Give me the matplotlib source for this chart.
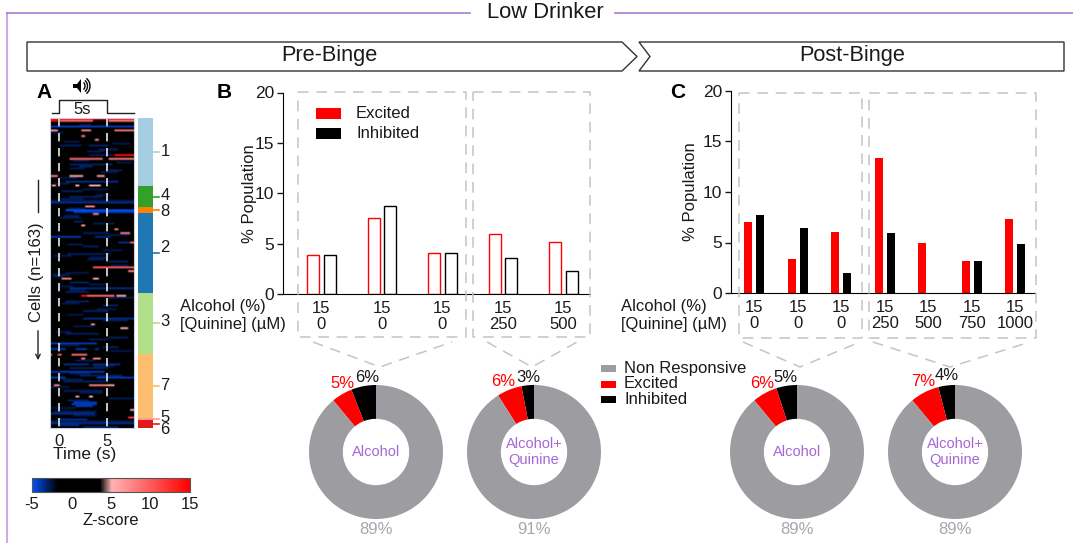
import matplotlib
matplotlib.use('Agg')
import matplotlib.pyplot as plt
from matplotlib.colors import LinearSegmentedColormap
from matplotlib.patches import Arc, Polygon, Rectangle
import numpy as np

W, H = 1073, 543

RED = '#ff0000'
GREY = '#9d9ca0'
DASH = '#c4c4c4'
PURPLE = '#a566d6'
TEXT = '#1a1a1a'

# Heatmap, read off the picture streak by streak
# (row, first second, last second, z-score)
STREAK_ROW = [0, 1, 1, 1, 4, 4, 6, 6, 6, 9, 11, 14, 14, 16, 19, 19, 21, 21, 24, 25, 27, 30,
              30, 30, 33, 35, 35, 35, 38, 41, 44, 46, 48, 49, 50, 51, 54, 56, 58, 60, 60,
              62, 62, 65, 65, 67, 71, 71, 73, 75, 78, 80, 82, 84, 84, 86, 89, 91, 93, 93,
              93, 96, 98, 101, 105, 105, 108, 110, 113, 115, 118, 120, 121, 121, 121, 124,
              124, 124, 126, 126, 129, 129, 131, 133, 135, 136, 136, 138, 140, 140, 140,
              143, 146, 146, 148, 149, 150, 151, 153, 154, 155, 157, 158, 160, 161, 162]
STREAK_START = [-0.94, -0.94, 0.1, 5.15, -0.94, 1.5, -0.94, 2.3, 5.65, 2.35, 3.6, 0.1, 3.0, 4.0,
                5.6, 3.0, 0.97, 5.15, 0.97, 2.0, 5.0, -0.94, 0.97, 3.9, 0.6, -0.7, 1.67, 3.05,
                0.3, 1.0, -0.94, 2.7, 0.6, 1.5, 3.4, 0.5, 1.5, 2.2, 5.7, 6.35, 2.5, -0.94, 3.75,
                7.3, 6.0, 2.5, 0.8, 4.4, 3.0, 5.0, 3.47, 7.0, -0.7, 0.28, 3.47, 1.0, 0.97, 0.6,
                2.2, 2.9, 5.85, 0.6, 4.5, 2.5, 5.5, 2.5, 3.2, 6.35, 0.6, 5.0, -0.94, 4.5, -0.94,
                1.67, 3.75, -0.94, -0.1, 1.25, 2.3, 3.4, 0.45, 3.4, 1.0, -0.94, 2.0, -0.94, 3.9,
                0.4, -0.6, 3.05, 4.95, 0.5, 1.6, 3.05, 0.8, 1.5, 1.3, 1.6, 7.2, -0.5, -0.94, 7.15,
                -0.1, -0.94, 0.0, 2.5]
STREAK_END = [7.81, -0.07, 3.4, 7.75, 7.81, 7.81, -0.07, 3.35, 7.75, 2.65, 4.15, 2.35, 5.0, 6.0,
              7.65, 5.5, 4.45, 7.75, 5.5, 3.4, 6.5, -0.1, 2.5, 4.6, 6.0, -0.25, 2.0, 4.3, 2.5, 4.5,
              7.81, 3.7, 7.81, 7.81, 4.1, 2.0, 2.5, 2.65, 6.1, 7.2, 5.0, 2.2, 5.3, 7.81, 7.2, 4.0,
              4.45, 5.3, 5.0, 7.0, 7.81, 7.81, 1.0, 1.2, 4.1, 3.0, 7.81, 3.0, 2.9, 5.65, 6.9, 3.05,
              6.0, 5.0, 6.25, 7.81, 3.7, 7.05, 4.0, 7.0, 3.9, 6.0, 0.6, 2.9, 4.1, -0.7, 0.28, 2.9,
              2.65, 4.3, 3.05, 6.2, 5.0, 4.6, 6.5, 0.6, 7.81, 5.0, 0.1, 4.8, 5.65, 4.5, 2.1, 3.4,
              3.0, 3.9, 3.9, 3.5, 7.81, 3.9, 3.75, 7.81, 2.9, 7.81, 2.0, 6.0]
STREAK_Z = [15, 15, 9, 8, -4, -4, 7, 8, 9, 8, 7, -3, -3, -3, 14, -3, 9, 8, -3, -3, -3, 8, 6, 6,
            -3.5, 7, 6, 6, -3, -3, -3.5, 8, -5, -4, 8, -3, -3, 7, 8, 8, -3, -4, -3.5, 10, -3.5, -3, -3,
            -3, -3, -3, 10, 7, -3, 8, 5, -3, -3.5, -3, 14, 9, 5, -3, -3, -3, 8, -3.5, 7, 5, -3, -3,
            -4, -3, -4, -4, -4, 7, 9, 9, 8, 8, -3.5, -3.5, -3, -4, -3, -4, -4, -3, 8, 8, 6, -3, 7,
            5, -3, -4, -4, -4, 6, -3, -3.5, 12, -3.5, -3.5, -3.5, -3]

# Dim navy traces between the brighter streaks
FAINT_ROW = [3, 7, 12, 13, 17, 22, 23, 26, 28, 31, 34, 37, 40, 42, 43, 47, 52, 55, 61, 66, 69, 72,
             74, 77, 81, 83, 87, 88, 90, 94, 97, 100, 103, 106, 109, 112, 116, 119, 122, 127,
             130, 134, 137, 141, 144, 147, 152, 156, 159]
FAINT_START = [2.0, -0.9, 0.5, 5.5, 2.8, 1.5, 5.8, 1.0, 4.2, 0.0, -0.5, 2.5, 3.6, 0.2, -0.94, 0.8,
               0.0, 3.5, 5.0, 0.8, 4.5, -0.5, 2.8, 5.2, 0.6, -0.6, 3.0, 0.0, 1.0, 5.0, 0.2, 3.8,
               0.9, 4.5, 1.4, -0.4, 3.0, 0.0, 5.3, 1.6, 3.5, 1.1, 0.3, -0.9, 2.0, 5.0, -0.7, 1.4, -0.94]
FAINT_END = [3.2, 0.4, 2.0, 7.2, 4.6, 3.0, 7.4, 2.6, 6.0, 1.8, 1.0, 5.0, 5.2, 2.4, 7.81, 2.6,
             2.2, 5.6, 7.2, 2.5, 6.4, 1.2, 4.6, 7.0, 3.0, 0.5, 4.9, 1.5, 2.6, 7.6, 2.0, 5.8,
             2.4, 7.0, 3.4, 1.3, 5.0, 2.0, 7.5, 3.6, 5.6, 3.3, 2.4, 1.0, 4.5, 7.6, 1.6, 3.8, 7.81]

# Cells per cluster, top to bottom
CLUSTER_NAMES = ['1', '4', '8', '2', '3', '7', '5', '6']
CLUSTER_SIZES = [36, 11, 3, 42, 32, 34, 1, 4]
CLUSTER_COLORS = ['#a6cee3', '#33a02c', '#ff7f00', '#1f78b4', '#b2df8a', '#fdbf6f', '#fb9a99', '#e31a1c']

# Percent of population, panel B
B_ALCOHOL = ['15', '15', '15', '15', '15']
B_QUININE = ['0', '0', '0', '250', '500']
B_EXCITED = [3.9, 7.5, 4.1, 6.0, 5.2]
B_INHIBITED = [3.9, 8.7, 4.1, 3.6, 2.3]

# Percent of population, panel C
C_ALCOHOL = ['15', '15', '15', '15', '15', '15', '15']
C_QUININE = ['0', '0', '0', '250', '500', '750', '1000']
C_EXCITED = [7.0, 3.4, 6.0, 13.4, 5.0, 3.2, 7.3]
C_INHIBITED = [7.7, 6.4, 2.0, 5.9, 0, 3.2, 4.9]

# Donuts: inhibited, excited, non responsive
DONUT_INHIBITED = [6, 3, 5, 4]
DONUT_EXCITED = [5, 6, 6, 7]
DONUT_NONE = [89, 91, 89, 89]
DONUT_NAMES = ['Alcohol', 'Alcohol+\nQuinine', 'Alcohol', 'Alcohol+\nQuinine']


def px_axes(fig, left, top, right, bottom):
    return fig.add_axes([left / W, 1 - bottom / H, (right - left) / W, (bottom - top) / H])


def draw_bars(ax, alcohol, quinine, excited, inhibited, filled, width, offset, xlim):
    x = np.arange(len(excited))
    for vals, color, sign in ((excited, RED, -1), (inhibited, 'black', 1)):
        if filled:
            ax.bar(x + sign * offset, vals, width, color=color, linewidth=0)
        else:
            ax.bar(x + sign * offset, vals, width, facecolor='white', edgecolor=color, linewidth=1.0)
    ax.set_xlim(xlim)
    ax.set_ylim(0, 20)
    ax.set_yticks([0, 5, 10, 15, 20])
    ax.set_xticks(x)
    ax.set_xticklabels(['{}\n{}'.format(a, q) for a, q in zip(alcohol, quinine)], linespacing=1.05)
    ax.tick_params(axis='x', length=0, pad=5, labelsize=12, colors=TEXT)
    ax.tick_params(axis='y', length=4.5, width=1, pad=2, labelsize=12.5, colors=TEXT)
    ax.spines['top'].set_visible(False)
    ax.spines['right'].set_visible(False)
    ax.patch.set_alpha(0)


def main():
    plt.rcParams['font.family'] = ['Liberation Sans', 'DejaVu Sans']
    fig = plt.figure(figsize=(W / 100, H / 100), dpi=100, facecolor='white')

    # Panel A heatmap
    edges = np.arange(-0.94, 7.82, 0.2)
    centers = edges[:-1] + 0.1
    grid = np.zeros((163, len(centers)))
    for row, start, end in zip(FAINT_ROW, FAINT_START, FAINT_END):
        grid[row, (centers >= start) & (centers <= end)] = -2.8
    for row, start, end, z in zip(STREAK_ROW, STREAK_START, STREAK_END, STREAK_Z):
        grid[row, (centers >= start) & (centers <= end)] = z

    cmap = LinearSegmentedColormap.from_list('zscore', [
        (0.0, '#0050ff'), (0.16, '#000000'), (0.43, '#000000'),
        (0.505, '#ffb4b4'), (1.0, '#ff0000')])

    ax_heat = px_axes(fig, 50, 118, 134, 428)
    im = ax_heat.imshow(grid, aspect='auto', cmap=cmap, vmin=-5, vmax=15,
                        extent=[-0.94, 7.81, 163, 0], interpolation='bilinear',
                        interpolation_stage='rgba')
    ax_heat.vlines([0, 5], 0, 163, color='#e8e8e8', linewidth=1.2, linestyles=(0, (5, 4)))
    ax_heat.set_xticks([0, 5])
    ax_heat.set_yticks([])
    ax_heat.tick_params(axis='x', length=0, pad=4, labelsize=12, colors=TEXT)
    for s in ax_heat.spines.values():
        s.set_color('#c8d0e0')

    # Cluster strip
    ax_clu = px_axes(fig, 138, 118, 153, 428)
    bottom = 0
    centers_clu = []
    for size, color in zip(CLUSTER_SIZES, CLUSTER_COLORS):
        ax_clu.bar(0.5, size, 1, bottom=bottom, color=color, linewidth=0)
        centers_clu.append(bottom + size / 2)
        bottom += size
    ax_clu.set_xlim(0, 1)
    ax_clu.set_ylim(163, 0)
    ax_clu.axis('off')
    for c, color in zip(centers_clu, CLUSTER_COLORS):
        ax_clu.plot([1, 1.38], [c, c], color=color, lw=1.2, clip_on=False)

    # Colorbar
    ax_cb = px_axes(fig, 32, 478, 190, 492)
    cb = fig.colorbar(im, cax=ax_cb, orientation='horizontal')
    cb.set_ticks([-5, 0, 5, 10, 15])
    cb.set_ticklabels(['-5', '0', '5', '10', '15'])
    cb.ax.tick_params(length=0, pad=3.5, labelsize=12, labelcolor=TEXT)
    cb.outline.set_edgecolor('#555555')
    cb.set_label('Z-score', fontsize=12, color=TEXT, labelpad=1)

    # Panels B and C
    ax_b = px_axes(fig, 283, 92.5, 590, 294)
    draw_bars(ax_b, B_ALCOHOL, B_QUININE, B_EXCITED, B_INHIBITED, False, 0.2, 0.137, (-0.636, 4.44))
    ax_b.set_ylabel('% Population', fontsize=12, color=TEXT, labelpad=-1.5)

    ax_c = px_axes(fig, 731, 91, 1035, 293)
    draw_bars(ax_c, C_ALCOHOL, C_QUININE, C_EXCITED, C_INHIBITED, True, 0.184, 0.138, (-0.54, 6.45))
    ax_c.set_ylabel('% Population', fontsize=12, color=TEXT, labelpad=3)

    # Donuts
    for cx, ne, ex, no in zip([376, 534, 797, 955], DONUT_INHIBITED, DONUT_EXCITED, DONUT_NONE):
        ax_d = px_axes(fig, cx - 67, 385, cx + 67, 519)
        ax_d.pie([ne, ex, no], colors=['black', RED, GREY], startangle=90, counterclock=True,
                 radius=1, wedgeprops={'width': 0.505, 'linewidth': 0})
        ax_d.set_xlim(-1, 1)
        ax_d.set_ylim(-1, 1)

    # Everything else sits on a pixel overlay
    ov = fig.add_axes([0, 0, 1, 1], zorder=10)
    ov.set_xlim(0, W)
    ov.set_ylim(H, 0)
    ov.axis('off')

    def label(x, y, s, size=12, color=TEXT, ha='center', **kw):
        ov.text(x, y, s, fontsize=size, color=color, ha=ha, va='center', **kw)

    # Frame and headers
    ov.plot([7, 7], [13, 543], color='#c9aee6', lw=1.5)
    ov.plot([470, 7], [13, 13], color='#a77bd0', lw=1.2)
    ov.plot([615, 1073], [13, 13], color='#a77bd0', lw=1.2)
    label(545, 13, 'Low Drinker', 15.8)
    ov.add_patch(Polygon([(27, 42), (622, 42), (637, 56.5), (622, 71), (27, 71)], closed=True,
                         fc='white', ec='#333333', lw=1))
    ov.add_patch(Polygon([(639, 42), (1064, 42), (1064, 71), (639, 71), (650, 56.5)], closed=True,
                         fc='white', ec='#333333', lw=1))
    label(329, 56, 'Pre-Binge', 15.7)
    label(852, 56, 'Post-Binge', 15.7)

    label(44, 93, 'A', 15, 'black', fontweight='bold')
    label(224, 92, 'B', 15, 'black', fontweight='bold')
    label(678, 93, 'C', 15, 'black', fontweight='bold')

    # Sound icon and stimulus trace
    ov.add_patch(Polygon([(73, 84), (77, 84), (81, 79), (81, 93), (77, 88), (73, 88)], closed=True,
                         fc='black', ec='none'))
    for d in (8, 13, 18):
        ov.add_patch(Arc((81, 86), d, d + 1, theta1=-55, theta2=55, color='black', lw=1))
    ov.plot([52, 59, 59, 107, 107, 134], [113, 113, 100, 100, 113, 113], color='#222222', lw=1)
    label(82, 109, '5s', 12)
    label(85, 455, 'Time (s)', 12.5)

    # Cells label
    label(37, 272, 'Cells (n=163)', 12, rotation=90)
    ov.plot([38, 38], [180, 212], color='#222222', lw=1)
    ov.annotate('', xy=(38, 363), xytext=(38, 328),
                arrowprops={'arrowstyle': '->', 'color': '#222222', 'lw': 1, 'mutation_scale': 8})

    # Cluster names
    for name, y in zip(CLUSTER_NAMES, [151, 196, 212, 248, 321, 385, 417, 430]):
        label(165, y, name, 12)

    # Row titles under the bars
    for x in (180, 621):
        label(x, 307, 'Alcohol (%)', 12, ha='left')
        label(x, 324, '[Quinine] (\u00b5M)', 12, ha='left')

    # Bar legend
    ov.add_patch(Rectangle((316, 108), 25, 11, fc=RED, ec='none'))
    ov.add_patch(Rectangle((316, 128), 25, 11, fc='black', ec='none'))
    label(356, 114, 'Excited', 12, ha='left')
    label(356, 134, 'Inhibited', 12, ha='left')

    # Dashed boxes and chevrons
    dash = {'color': DASH, 'lw': 1.1, 'linestyle': (0, (7, 5))}
    for l, r, t, b in ((298, 466, 92, 337), (473, 590, 92, 337), (739, 862, 93, 338), (869, 1036, 93, 338)):
        ov.plot([l, r, r, l, l], [t, t, b, b, t], **dash)
    for a, tip, c in ((313, 380, 452), (487, 532, 577), (743, 800, 860), (873, 950, 1030)):
        ov.plot([a, tip, c], [342, 367, 342], **dash)

    # Donut labels
    for cx, name, ne, ex, no, ex_x, ne_x, ex_y, ne_y in zip(
            [376, 534, 797, 955], DONUT_NAMES, DONUT_INHIBITED, DONUT_EXCITED, DONUT_NONE,
            [342, 503, 762, 923], [367, 528, 785, 947], [383, 381, 383, 381], [377, 377, 377, 375]):
        label(cx, 452, name, 10.5, PURPLE, linespacing=1.15)
        label(cx, 529, '{}%'.format(no), 12, '#a8a8a8')
        label(ex_x, ex_y, '{}%'.format(ex), 12, RED)
        label(ne_x, ne_y, '{}%'.format(ne), 12, TEXT)

    # Donut legend
    for y, color, name in ((368, GREY, 'Non Responsive'), (384, RED, 'Excited'), (399, 'black', 'Inhibited')):
        ov.add_patch(Rectangle((601, y - 3.5), 15, 7.5, fc=color, ec='none'))
        label(624, y, name, 12, ha='left')

    fig.savefig('out.png', dpi=100)


if __name__ == '__main__':
    main()
